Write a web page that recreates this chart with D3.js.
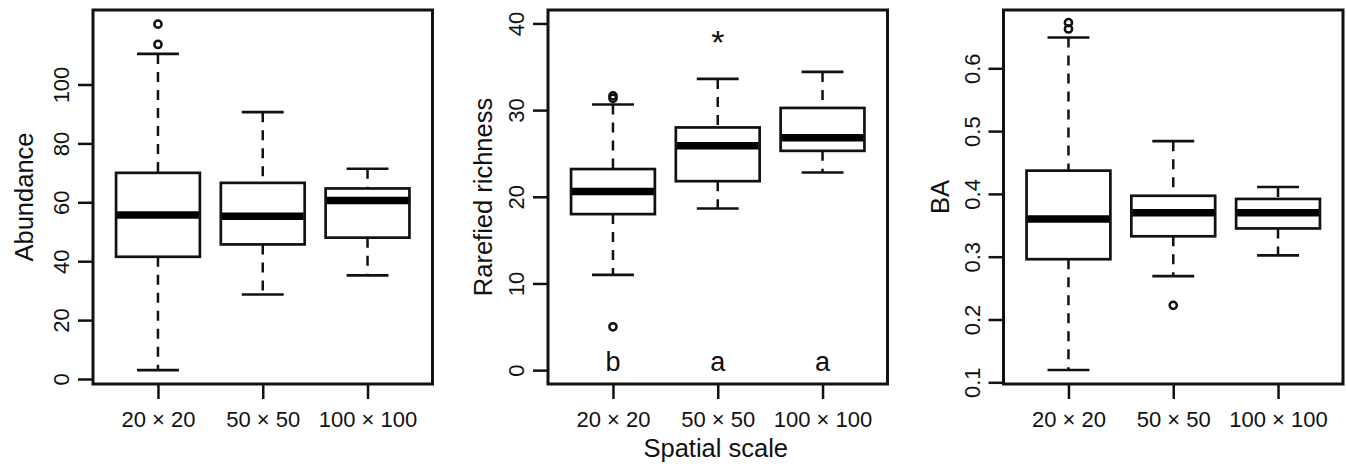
<!DOCTYPE html>
<html>
<head>
<meta charset="utf-8">
<script src="https://cdn.jsdelivr.net/npm/d3@7"></script>
<style>
  body { margin: 0; background: #fff; }
  svg text { font-family: "Liberation Sans", Arial, Helvetica, sans-serif; fill: #111; }
</style>
</head>
<body>
<div id="chart"></div>
<script>
// categories
const categories = ['20 × 20', '50 × 50', '100 × 100'];

// Abundance
const abLow = [3, 28.7, 35.2];
const abQ1 = [41.5, 45.7, 48];
const abMed = [55.7, 55.3, 60.6];
const abQ3 = [70, 66.6, 64.7];
const abHigh = [110.4, 90.6, 71.4];
const abOut = [[120.5, 113.6], [], []];
const abTicks = [0, 20, 40, 60, 80, 100];

// Rarefied richness
const rrLow = [11.0, 18.65, 22.8];
const rrQ1 = [18, 21.8, 25.3];
const rrMed = [20.6, 25.9, 26.8];
const rrQ3 = [23.2, 28, 30.25];
const rrHigh = [30.65, 33.6, 34.4];
const rrOut = [[31.35, 31.65, 5.0], [], []];
const rrTicks = [0, 10, 20, 30, 40];
const rrLetters = ['b', 'a', 'a'];
const rrStar = [null, 38.8, null];

// BA
const baLow = [0.1196, 0.269, 0.302];
const baQ1 = [0.296, 0.3325, 0.345];
const baMed = [0.360, 0.370, 0.370];
const baQ3 = [0.437, 0.397, 0.392];
const baHigh = [0.649, 0.484, 0.411];
const baOut = [[0.6726, 0.6626], [0.2226], []];
const baTicks = [0.1, 0.2, 0.3, 0.4, 0.5, 0.6];

const width = 1346,
    height = 469;

const svg = d3.select('#chart')
    .append('svg')
    .attr('width', width)
    .attr('height', height);

// 組成每個面板
function boxes(low, q1, med, q3, high, out) {
    return categories.map((c, i) => ({
        cat: c, i: i + 1,
        low: low[i], q1: q1[i], med: med[i], q3: q3[i], high: high[i],
        out: out[i]
    }));
}

const panels = [{
        title: 'Abundance',
        data: boxes(abLow, abQ1, abMed, abQ3, abHigh, abOut),
        ticks: abTicks,
        fmt: d3.format('d'),
        domain: [-1.7, 125.3],
        left: 93, titleOff: 60
    },
    {
        title: 'Rarefied richness',
        data: boxes(rrLow, rrQ1, rrMed, rrQ3, rrHigh, rrOut),
        ticks: rrTicks,
        fmt: d3.format('d'),
        domain: [-1.6, 41.55],
        left: 548, titleOff: 56,
        letters: rrLetters,
        star: rrStar,
        xTitle: 'Spatial scale'
    },
    {
        title: 'BA',
        data: boxes(baLow, baQ1, baMed, baQ3, baHigh, baOut),
        ticks: baTicks,
        fmt: d3.format('.1f'),
        domain: [0.0973, 0.6928],
        left: 1003.5, titleOff: 55
    }
];

const plotW = 339.5,
    plotTop = 10,
    plotBottom = 384;

panels.forEach(p => {
    const g = svg.append('g').attr('transform', `translate(${p.left},0)`);

    const x = d3.scaleLinear().domain([0.38, 3.62]).range([0, plotW]);
    const y = d3.scaleLinear().domain(p.domain).range([plotBottom, plotTop]);

    // y 軸
    const yAxis = g.append('g')
        .call(d3.axisLeft(y).tickValues(p.ticks).tickFormat(p.fmt).tickSize(15).tickPadding(0));
    yAxis.select('.domain').remove();
    yAxis.selectAll('line').attr('stroke', '#111').attr('stroke-width', 2.5);
    yAxis.selectAll('text')
        .attr('x', 0)
        .attr('dy', 0)
        .attr('y', -24)
        .attr('transform', 'rotate(-90)')
        .attr('text-anchor', 'middle')
        .style('font-size', '22px');

    // x 軸
    const xAxis = g.append('g')
        .attr('transform', `translate(0,${plotBottom})`)
        .call(d3.axisBottom(x).tickValues([1, 2, 3]).tickFormat(d => categories[d - 1]).tickSize(15));
    xAxis.select('.domain').remove();
    xAxis.selectAll('line').attr('stroke', '#111').attr('stroke-width', 2.5);
    xAxis.selectAll('text')
        .attr('y', 43)
        .attr('dy', 0)
        .style('font-size', '22px');

    // 標題
    g.append('text')
        .attr('transform', `translate(${-p.titleOff},${(plotTop + plotBottom) / 2}) rotate(-90)`)
        .attr('text-anchor', 'middle')
        .style('font-size', '25.5px')
        .text(p.title);

    if (p.xTitle) {
        g.append('text')
            .attr('x', plotW / 2 - 2)
            .attr('y', plotBottom + 73)
            .attr('text-anchor', 'middle')
            .style('font-size', '25.5px')
            .text(p.xTitle);
    }

    const bx = g.selectAll('.bx')
        .data(p.data)
        .enter()
        .append('g')
        .attr('class', 'bx');

    // 鬚 (虛線)
    bx.append('line')
        .attr('x1', d => x(d.i)).attr('x2', d => x(d.i))
        .attr('y1', d => y(d.high)).attr('y2', d => y(d.q3))
        .attr('stroke', '#111').attr('stroke-width', 2.5)
        .attr('stroke-dasharray', '10,8');
    bx.append('line')
        .attr('x1', d => x(d.i)).attr('x2', d => x(d.i))
        .attr('y1', d => y(d.q1)).attr('y2', d => y(d.low))
        .attr('stroke', '#111').attr('stroke-width', 2.5)
        .attr('stroke-dasharray', '10,8');

    // 端點
    bx.selectAll('.cap')
        .data(d => [{ i: d.i, v: d.high }, { i: d.i, v: d.low }])
        .enter()
        .append('line')
        .attr('class', 'cap')
        .attr('x1', d => x(d.i - 0.2)).attr('x2', d => x(d.i + 0.2))
        .attr('y1', d => y(d.v)).attr('y2', d => y(d.v))
        .attr('stroke', '#111').attr('stroke-width', 2.7);

    // 箱子
    bx.append('rect')
        .attr('x', d => x(d.i - 0.4))
        .attr('width', d => x(d.i + 0.4) - x(d.i - 0.4))
        .attr('y', d => y(d.q3))
        .attr('height', d => y(d.q1) - y(d.q3))
        .attr('fill', '#fff')
        .attr('stroke', '#111')
        .attr('stroke-width', 2.7);

    // 中位數
    bx.append('line')
        .attr('x1', d => x(d.i - 0.4) + 1).attr('x2', d => x(d.i + 0.4) - 1)
        .attr('y1', d => y(d.med)).attr('y2', d => y(d.med))
        .attr('stroke', '#000').attr('stroke-width', 7.5);

    // 離群值
    bx.selectAll('.out')
        .data(d => d.out.map(v => ({ i: d.i, v: v })))
        .enter()
        .append('circle')
        .attr('class', 'out')
        .attr('cx', d => x(d.i))
        .attr('cy', d => y(d.v))
        .attr('r', 3.6)
        .attr('fill', 'none')
        .attr('stroke', '#111')
        .attr('stroke-width', 2.5);

    if (p.letters) {
        g.selectAll('.letter')
            .data(p.letters)
            .enter()
            .append('text')
            .attr('class', 'letter')
            .attr('x', (d, i) => x(i + 1))
            .attr('y', y(0) + 1)
            .attr('text-anchor', 'middle')
            .style('font-size', '27px')
            .text(d => d);
    }

    if (p.star) {
        g.selectAll('.star')
            .data(p.star.map((v, i) => ({ i: i + 1, v: v })).filter(d => d.v !== null))
            .enter()
            .append('text')
            .attr('class', 'star')
            .attr('x', d => x(d.i))
            .attr('y', d => y(d.v) + 20)
            .attr('text-anchor', 'middle')
            .style('font-size', '34px')
            .text('*');
    }

    // 外框
    g.append('rect')
        .attr('x', 0).attr('y', plotTop)
        .attr('width', plotW).attr('height', plotBottom - plotTop)
        .attr('fill', 'none')
        .attr('stroke', '#111')
        .attr('stroke-width', 3);
});
</script>
</body>
</html>
